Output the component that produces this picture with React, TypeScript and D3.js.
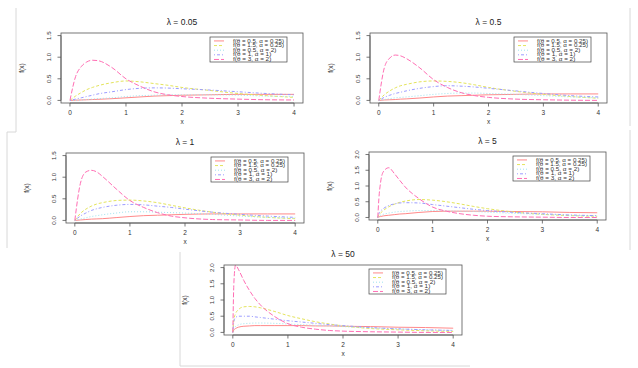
import React from 'react';
import * as d3 from 'd3';

// x grids the curves were read on
const gridA = [0, 0.1, 0.2, 0.3, 0.4, 0.5, 0.75, 1, 1.25, 1.5, 1.75, 2, 2.5, 3, 3.5, 4];
const gridB = [0, 0.02, 0.05, 0.1, 0.2, 0.3, 0.4, 0.5, 0.75, 1, 1.25, 1.5, 1.75, 2, 2.5, 3, 3.5, 4];

const seriesLabels = [
  'f(θ = 0.5, α = 0.25)',
  'f(θ = 1.5, α = 0.25)',
  'f(θ = 0.5, α = 2)',
  'f(θ = 1, α = 1)',
  'f(θ = 3, α = 2)',
];
const seriesColors = ['#ff8a8a', '#e4e45c', '#9fe3ee', '#9c9cff', '#ff6eb4'];
const seriesDash = [null, '3,2', '1,2', '1,2,3,2', '5,2'];

const xTicks = [0, 1, 2, 3, 4];

// lambda = 0.05
const l005Red = [0, 0.005, 0.01, 0.015, 0.02, 0.025, 0.04, 0.06, 0.08, 0.1, 0.11, 0.12, 0.13, 0.14, 0.14, 0.14];
const l005Yellow = [0, 0.1, 0.18, 0.25, 0.3, 0.34, 0.41, 0.45, 0.43, 0.39, 0.35, 0.3, 0.23, 0.16, 0.11, 0.07];
const l005Cyan = [0, 0.005, 0.01, 0.02, 0.03, 0.04, 0.06, 0.09, 0.11, 0.12, 0.13, 0.13, 0.13, 0.12, 0.1, 0.09];
const l005Blue = [0, 0.03, 0.06, 0.09, 0.12, 0.15, 0.2, 0.25, 0.28, 0.29, 0.285, 0.27, 0.24, 0.2, 0.16, 0.13];
const l005Pink = [0, 0.55, 0.78, 0.89, 0.93, 0.92, 0.76, 0.5, 0.33, 0.2, 0.13, 0.09, 0.05, 0.03, 0.015, 0.01];

// lambda = 0.5
const l05Red = [0, 0.01, 0.015, 0.02, 0.03, 0.035, 0.055, 0.08, 0.1, 0.11, 0.12, 0.13, 0.14, 0.15, 0.15, 0.15];
const l05Yellow = [0, 0.13, 0.22, 0.29, 0.34, 0.37, 0.43, 0.45, 0.44, 0.41, 0.36, 0.3, 0.21, 0.14, 0.09, 0.05];
const l05Cyan = [0, 0.02, 0.04, 0.06, 0.07, 0.08, 0.11, 0.14, 0.16, 0.17, 0.17, 0.16, 0.14, 0.11, 0.08, 0.06];
const l05Blue = [0, 0.07, 0.12, 0.16, 0.19, 0.22, 0.28, 0.32, 0.34, 0.33, 0.31, 0.28, 0.22, 0.16, 0.11, 0.08];
const l05Pink = [0, 0.75, 0.98, 1.05, 1.03, 0.97, 0.75, 0.48, 0.3, 0.18, 0.11, 0.07, 0.03, 0.015, 0.005, 0];

// lambda = 1
const l1Red = [0, 0.01, 0.02, 0.03, 0.035, 0.04, 0.065, 0.09, 0.11, 0.12, 0.13, 0.14, 0.15, 0.15, 0.15, 0.15];
const l1Yellow = [0, 0.16, 0.26, 0.33, 0.38, 0.41, 0.46, 0.47, 0.45, 0.41, 0.35, 0.29, 0.19, 0.12, 0.07, 0.04];
const l1Cyan = [0, 0.03, 0.06, 0.09, 0.11, 0.13, 0.17, 0.2, 0.2, 0.19, 0.18, 0.17, 0.14, 0.1, 0.07, 0.05];
const l1Blue = [0, 0.1, 0.17, 0.23, 0.27, 0.3, 0.35, 0.37, 0.36, 0.33, 0.3, 0.26, 0.19, 0.14, 0.1, 0.07];
const l1Pink = [0, 0.85, 1.12, 1.16, 1.12, 1.02, 0.73, 0.46, 0.3, 0.18, 0.1, 0.06, 0.02, 0.01, 0, 0];

// lambda = 5
const l5Red = [0, 0.02, 0.03, 0.05, 0.07, 0.09, 0.11, 0.12, 0.16, 0.19, 0.2, 0.2, 0.2, 0.2, 0.19, 0.18, 0.16, 0.15];
const l5Yellow = [0, 0.08, 0.14, 0.22, 0.34, 0.42, 0.48, 0.52, 0.57, 0.55, 0.5, 0.43, 0.35, 0.28, 0.17, 0.1, 0.06, 0.04];
const l5Cyan = [0, 0.04, 0.07, 0.1, 0.14, 0.17, 0.19, 0.2, 0.22, 0.22, 0.21, 0.2, 0.19, 0.17, 0.13, 0.1, 0.07, 0.05];
const l5Blue = [0, 0.12, 0.2, 0.28, 0.38, 0.43, 0.46, 0.47, 0.46, 0.41, 0.36, 0.31, 0.26, 0.22, 0.16, 0.12, 0.08, 0.06];
const l5Pink = [0, 0.6, 1.1, 1.45, 1.58, 1.4, 1.18, 0.97, 0.6, 0.33, 0.2, 0.12, 0.07, 0.04, 0.02, 0.01, 0, 0];

// lambda = 50
const l50Red = [0, 0.08, 0.12, 0.16, 0.19, 0.2, 0.21, 0.21, 0.21, 0.21, 0.21, 0.2, 0.2, 0.19, 0.18, 0.16, 0.15, 0.13];
const l50Yellow = [0, 0.4, 0.58, 0.7, 0.79, 0.8, 0.79, 0.76, 0.65, 0.52, 0.42, 0.33, 0.26, 0.2, 0.12, 0.08, 0.05, 0.03];
const l50Cyan = [0, 0.12, 0.18, 0.23, 0.27, 0.28, 0.29, 0.29, 0.28, 0.26, 0.24, 0.22, 0.2, 0.18, 0.14, 0.11, 0.08, 0.06];
const l50Blue = [0, 0.35, 0.46, 0.5, 0.5, 0.5, 0.48, 0.46, 0.41, 0.36, 0.32, 0.28, 0.24, 0.21, 0.15, 0.11, 0.08, 0.06];
const l50Pink = [0, 1.55, 2.08, 1.95, 1.6, 1.3, 1.05, 0.85, 0.5, 0.27, 0.16, 0.1, 0.06, 0.04, 0.02, 0.01, 0, 0];

const panels = [
  { id: 'p1', title: 'λ = 0.05', ymax: 1.5, grid: gridA, curves: [l005Red, l005Yellow, l005Cyan, l005Blue, l005Pink], box: { l: 61, r: 303, t: 33, b: 103 } },
  { id: 'p2', title: 'λ = 0.5', ymax: 1.5, grid: gridA, curves: [l05Red, l05Yellow, l05Cyan, l05Blue, l05Pink], box: { l: 370, r: 607, t: 33, b: 103 } },
  { id: 'p3', title: 'λ = 1', ymax: 1.5, grid: gridA, curves: [l1Red, l1Yellow, l1Cyan, l1Blue, l1Pink], box: { l: 66, r: 304, t: 153, b: 223 } },
  { id: 'p4', title: 'λ = 5', ymax: 2, grid: gridB, curves: [l5Red, l5Yellow, l5Cyan, l5Blue, l5Pink], box: { l: 369, r: 606, t: 152, b: 220 } },
  { id: 'p5', title: 'λ = 50', ymax: 2, grid: gridB, curves: [l50Red, l50Yellow, l50Cyan, l50Blue, l50Pink], box: { l: 224, r: 462, t: 265, b: 335 } },
];

const font = '"Liberation Sans", Arial, Helvetica, sans-serif';

const Panel = ({ p }) => {
  const { l, r, t, b } = p.box;
  const x = d3.scaleLinear().domain([-0.16, 4.16]).range([l, r]);
  const y = d3.scaleLinear().domain([-0.04 * p.ymax, 1.04 * p.ymax]).range([b, t]);
  const yTicks = d3.range(0, p.ymax + 0.001, 0.5);
  const line = d3.line<[number, number]>()
    .x(d => x(d[0]))
    .y(d => y(d[1]))
    .curve(d3.curveMonotoneX);

  // legend in top-right corner
  const legW = 77, legH = 25;
  const legX = r - 16 - legW, legY = t + 4;
  const rowH = legH / 5.4;

  return (
    <g>
      <defs>
        <clipPath id={`clip-${p.id}`}>
          <rect x={l} y={t} width={r - l} height={b - t} />
        </clipPath>
      </defs>
      <g clipPath={`url(#clip-${p.id})`}>
        {p.curves.map((vals, i) => (
          <path
            key={i}
            d={line(p.grid.map((gx, j) => [gx, vals[j]]))}
            fill="none"
            stroke={seriesColors[i]}
            strokeWidth={1}
            strokeDasharray={seriesDash[i] || undefined}
          />
        ))}
      </g>
      <rect x={l} y={t} width={r - l} height={b - t} fill="none" stroke="#555" strokeWidth={0.8} />

      {/* x axis */}
      <line x1={x(0)} x2={x(4)} y1={b} y2={b} stroke="#555" strokeWidth={0.8} />
      {xTicks.map(v => (
        <g key={v}>
          <line x1={x(v)} x2={x(v)} y1={b} y2={b + 3.5} stroke="#555" strokeWidth={0.8} />
          <text x={x(v)} y={b + 12} fontSize={6.5} textAnchor="middle" fill="#333">{v}</text>
        </g>
      ))}
      <text x={(l + r) / 2} y={b + 21} fontSize={6.5} textAnchor="middle" fill="#333">x</text>

      {/* y axis */}
      <line x1={l} x2={l} y1={y(0)} y2={y(p.ymax)} stroke="#555" strokeWidth={0.8} />
      {yTicks.map(v => (
        <g key={v}>
          <line x1={l - 3.5} x2={l} y1={y(v)} y2={y(v)} stroke="#555" strokeWidth={0.8} />
          <text
            transform={`translate(${l - 10},${y(v)}) rotate(-90)`}
            fontSize={6.2}
            textAnchor="middle"
            fill="#333"
          >{v.toFixed(1)}</text>
        </g>
      ))}
      <text
        transform={`translate(${l - 37},${(t + b) / 2}) rotate(-90)`}
        fontSize={6.5}
        textAnchor="middle"
        fill="#333"
      >f(x)</text>

      <text x={(l + r) / 2} y={t - 8} fontSize={8.5} textAnchor="middle" fill="#222">{p.title}</text>

      {/* legend */}
      <rect x={legX} y={legY} width={legW} height={legH} fill="white" stroke="#444" strokeWidth={0.7} />
      {seriesLabels.map((lab, i) => {
        const ry = legY + rowH * (i + 0.85);
        return (
          <g key={lab}>
            <line x1={legX + 4} x2={legX + 14} y1={ry} y2={ry} stroke={seriesColors[i]} strokeWidth={1}
              strokeDasharray={seriesDash[i] || undefined} />
            <text
              x={legX + 23}
              y={ry + 1.6}
              fontSize={4.6}
              fill="#333"
              textLength={lab.length * 2.55}
              lengthAdjust="spacingAndGlyphs"
            >{lab}</text>
          </g>
        );
      })}
    </g>
  );
};

const App = () => {
  return (
    <svg
      width={638}
      height={368}
      style={{ position: 'absolute', left: 0, top: 0, background: 'white', fontFamily: font }}
    >
      {/* faint frames of the pasted figures */}
      <g stroke="#d8d8d8" strokeWidth={1} fill="none">
        <polyline points="16,8 16,132 7,132 7,248" />
        <line x1={630} y1={8} x2={630} y2={126} />
        <line x1={630} y1={130} x2={630} y2={250} />
        <polyline points="180,252 180,366 470,366" />
      </g>
      {panels.map(p => <Panel key={p.id} p={p} />)}
    </svg>
  );
};

export default App;
